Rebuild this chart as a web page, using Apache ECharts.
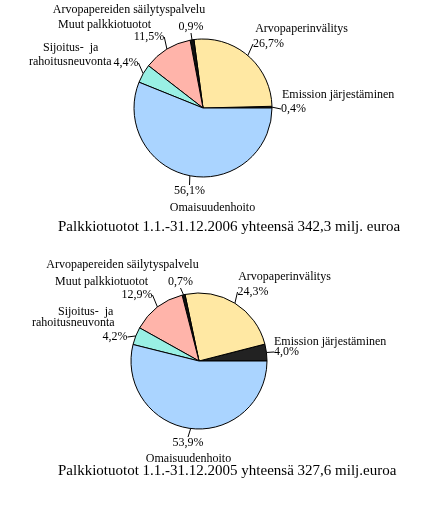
<!DOCTYPE html>
<html>
<head>
<meta charset="utf-8">
<script src="https://cdn.jsdelivr.net/npm/echarts@6/dist/echarts.min.js"></script>
<style>
html,body{margin:0;padding:0;background:#fff;}
#chart{width:422px;height:512px;}
</style>
</head>
<body>
<div id="chart"></div>
<script>
// ---- data ----
const categories = ['Emission järjestäminen', 'Arvopaperinvälitys', 'Arvopapereiden säilytyspalvelu', 'Muut palkkiotuotot', 'Sijoitus- ja rahoitusneuvonta', 'Omaisuudenhoito'];
const values2006 = [0.4, 26.7, 0.9, 11.5, 4.4, 56.1];
const values2005 = [4.0, 24.3, 0.7, 12.9, 4.2, 53.9];
const titles = ['Palkkiotuotot 1.1.-31.12.2006 yhteensä 342,3 milj. euroa', 'Palkkiotuotot 1.1.-31.12.2005 yhteensä 327,6 milj.euroa'];

// ---- styles / layout ----
const colors = ['#222222', '#FFE8A3', '#111111', '#FFB4AA', '#99F0E4', '#AAD4FF'];
const FONT = 'Liberation Serif';
const pies = [
  {center: [203, 108], radius: 69, values: values2006,
   pct: [[281,109,'left'], [268.5,44,'center'], [191,27,'center'], [149,37,'center'], [126,63,'center'], [189.5,191,'center']],
   name: [[282,95,'left'], [301.5,29,'center'], [129,10,'center'], [104.5,25,'center'], [29,55,'left'], [212.5,208,'center']],
   sijPad: 14, sijLH: 14, title: [58, 220]},
  {center: [199, 361], radius: 68, values: values2005,
   pct: [[274,352,'left'], [253,292,'center'], [180.5,282,'center'], [137,295,'center'], [115,337,'center'], [188,443,'center']],
   name: [[274,342,'left'], [284.5,277,'center'], [122.5,265,'center'], [101.5,282,'center'], [32,317,'left'], [188.5,459,'center']],
   sijPad: 26, sijLH: 11, title: [58, 464]}
];

function fmtPct(v) { return v.toFixed(1).replace('.', ',') + '%'; }

const series = [];
pies.forEach(function (p, pi) {
  const data = categories.map(function (c, i) {
    return {name: c, value: p.values[i], itemStyle: {color: colors[i]}};
  });
  // visible pie with percent labels
  series.push({
    type: 'pie', center: p.center, radius: p.radius, startAngle: 0, clockwise: false,
    avoidLabelOverlap: false, animation: false,
    itemStyle: {borderColor: '#000', borderWidth: 1},
    emphasis: {disabled: true},
    label: {show: true, position: 'outside', color: '#000', fontFamily: FONT, fontSize: 12,
      formatter: function (prm) { return fmtPct(prm.value); }},
    labelLine: {show: true, length: 4, length2: 0, lineStyle: {color: '#000', width: 1}},
    labelLayout: function (prm) {
      const q = p.pct[prm.dataIndex];
      return {x: q[0], y: q[1], align: q[2], verticalAlign: 'middle'};
    },
    data: data
  });
  // transparent twin pie carrying the category names
  series.push({
    type: 'pie', center: p.center, radius: p.radius, startAngle: 0, clockwise: false,
    avoidLabelOverlap: false, animation: false, silent: true,
    itemStyle: {color: 'rgba(0,0,0,0)', borderWidth: 0},
    emphasis: {disabled: true},
    label: {show: true, position: 'outside', color: '#000', fontFamily: FONT, fontSize: 12,
      lineHeight: p.sijLH,
      formatter: function (prm) {
        if (prm.dataIndex === 4) return '{a|Sijoitus-  ja}\n{b|rahoitusneuvonta}';
        return prm.name;
      },
      rich: {
        a: {fontFamily: FONT, fontSize: 12, color: '#000', lineHeight: p.sijLH, padding: [0, 0, 0, p.sijPad]},
        b: {fontFamily: FONT, fontSize: 12, color: '#000', lineHeight: p.sijLH}
      }},
    labelLine: {show: false},
    labelLayout: function (prm) {
      const q = p.name[prm.dataIndex];
      return {x: q[0], y: q[1], align: q[2], verticalAlign: 'middle'};
    },
    data: categories.map(function (c, i) { return {name: c, value: p.values[i]}; })
  });
});

const chart = echarts.init(document.getElementById('chart'), null, {renderer: 'canvas'});
chart.setOption({
  backgroundColor: '#fff',
  animation: false,
  title: pies.map(function (p, i) {
    return {text: titles[i], left: p.title[0], top: p.title[1], padding: 0,
      textStyle: {fontFamily: FONT, fontSize: 15, fontWeight: 'normal', color: '#000'}};
  }),
  series: series
});
</script>
</body>
</html>
